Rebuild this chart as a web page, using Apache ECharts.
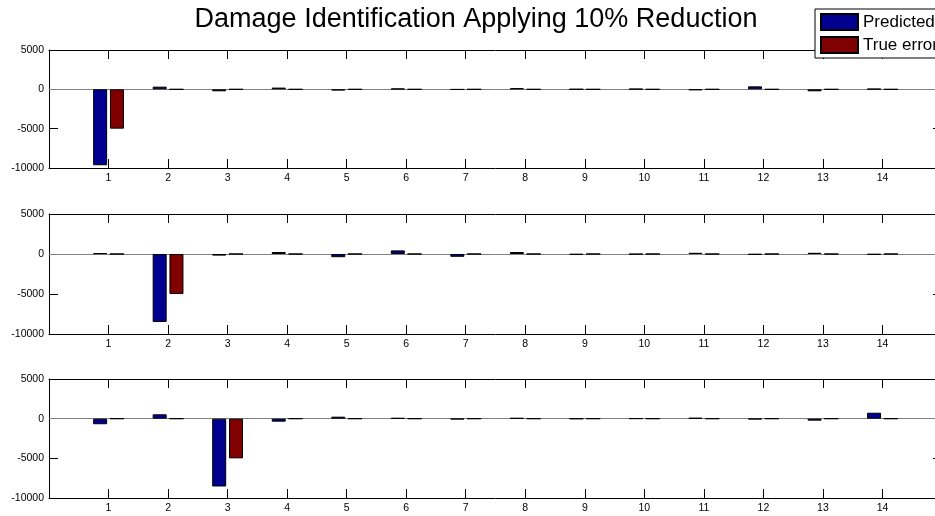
<!DOCTYPE html>
<html>
<head>
<meta charset="utf-8">
<script src="https://cdn.jsdelivr.net/npm/echarts@6/dist/echarts.min.js"></script>
<style>
html,body{margin:0;padding:0;background:#fff;overflow:hidden;}
#chart{width:950px;height:516px;}
</style>
</head>
<body>
<div id="chart"></div>
<script>
const titleText = 'Damage Identification Applying 10% Reduction';
const seriesNames = ['Predicted', 'True error'];
const categories = [1, 2, 3, 4, 5, 6, 7, 8, 9, 10, 11, 12, 13, 14];
const yTicks = [-10000, -5000, 0, 5000];

const predicted1 = [-9650, 340, -250, 220, -150, 100, -30, 150, 20, 60, -100, 380, -250, 60];
const trueError1 = [-5000, 0, 0, 0, 0, 0, 0, 0, 0, 0, 0, 0, 0, 0];
const predicted2 = [100, -8500, -200, 250, -400, 450, -350, 250, -80, -30, 150, -80, 150, -80];
const trueError2 = [0, -5000, 0, 0, 0, 0, 0, 0, 0, 0, 0, 0, 0, 0];
const predicted3 = [-700, 550, -8550, -380, 250, 80, -80, 80, -20, 20, 100, -80, -250, 750];
const trueError3 = [0, 0, -5000, 0, 0, 0, 0, 0, 0, 0, 0, 0, 0, 0];

const panels = [
  { pred: predicted1, err: trueError1 },
  { pred: predicted2, err: trueError2 },
  { pred: predicted3, err: trueError3 }
];

const FONT = 'Liberation Sans, Arial, Helvetica, sans-serif';
const gridTops = [50, 214, 379];
const gridHeights = [118, 120, 119];
const colors = ['#000090', '#800000'];

const grids = [], xAxes = [], yAxes = [], series = [];
panels.forEach((p, i) => {
  grids.push({ left: 49, width: 893, top: gridTops[i], height: gridHeights[i], containLabel: false });
  const axLine = { show: true, onZero: false, lineStyle: { color: '#000', width: 1 } };
  const tick = { show: true, inside: true, length: 9, lineStyle: { color: '#000', width: 1 } };
  const xMin = 0, xMax = categories.length + 1;
  xAxes.push({
    gridIndex: i, type: 'value', position: 'bottom', min: xMin, max: xMax, interval: 1,
    axisLine: axLine, axisTick: tick, splitLine: { show: false },
    axisLabel: { show: true, margin: 5, color: '#000', fontSize: 10.5, fontFamily: FONT,
      formatter: v => categories.indexOf(v) >= 0 ? String(v) : '' }
  });
  xAxes.push({
    gridIndex: i, type: 'value', position: 'top', min: xMin, max: xMax, interval: 1,
    axisLine: axLine, axisTick: tick, splitLine: { show: false }, axisLabel: { show: false }
  });
  yAxes.push({
    gridIndex: i, type: 'value', position: 'left', min: yTicks[0], max: yTicks[yTicks.length - 1],
    interval: yTicks[1] - yTicks[0],
    axisLine: axLine, axisTick: tick, splitLine: { show: false },
    axisLabel: { show: true, margin: 5, color: '#000', fontSize: 10.5, fontFamily: FONT,
      formatter: v => String(v) }
  });
  yAxes.push({
    gridIndex: i, type: 'value', position: 'right', min: yTicks[0], max: yTicks[yTicks.length - 1],
    interval: yTicks[1] - yTicks[0],
    axisLine: axLine, axisTick: tick, splitLine: { show: false }, axisLabel: { show: false }
  });
  [p.pred, p.err].forEach((vals, s) => {
    const ser = {
      name: seriesNames[s], type: 'bar', xAxisIndex: 2 * i, yAxisIndex: 2 * i,
      barWidth: 14, barGap: '20%',
      itemStyle: { color: colors[s], borderColor: '#000', borderWidth: 1 },
      emphasis: { disabled: true },
      data: categories.map((c, k) => [c, vals[k]]),
      z: 3
    };
    if (s === 0) {
      ser.markLine = {
        silent: true, symbol: ['none', 'none'], label: { show: false },
        lineStyle: { color: '#808080', width: 1, type: 'solid' },
        data: [{ yAxis: 0 }], z: 1
      };
    }
    series.push(ser);
  });
});

const chart = echarts.init(document.getElementById('chart'), null, { renderer: 'canvas' });
chart.setOption({
  animation: false,
  backgroundColor: '#fff',
  graphic: [{
    type: 'text', x: 476, y: 20, z: 10,
    style: { text: titleText, fill: '#000', font: '27px ' + FONT, textAlign: 'center', textVerticalAlign: 'middle' }
  }],
  legend: {
    data: seriesNames.map(n => ({ name: n, icon: 'rect' })), orient: 'vertical', left: 815, top: 9,
    itemWidth: 37, itemHeight: 16, itemGap: 5,
    padding: [4, 5, 4, 5],
    backgroundColor: '#fff', borderColor: '#000', borderWidth: 1,
    textStyle: { color: '#000', fontSize: 17, lineHeight: 16, fontFamily: FONT },
    selectedMode: false, z: 10
  },
  grid: grids, xAxis: xAxes, yAxis: yAxes, series: series
});
</script>
</body>
</html>
